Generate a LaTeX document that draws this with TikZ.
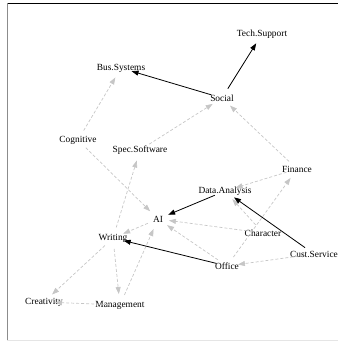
\documentclass[tikz,border=0pt]{standalone}
\usepackage{fontspec}
\setmainfont{Liberation Serif}
\usetikzlibrary{arrows.meta}

\begin{document}
\begin{tikzpicture}[x=1pt, y=-1pt,
	every node/.style={font=\fontsize{9.4}{11}\selectfont, inner sep=0pt},
	>={Triangle[length=7pt, width=5pt]},
	link/.style={->, line width=0.8pt, black, shorten >=11pt, shorten <=11pt},
	dep/.style={->, line width=0.7pt, gray!45, dash pattern=on 3pt off 2pt, shorten >=11pt, shorten <=11pt}]
	\useasboundingbox (0,0) rectangle (338,341);
	% frame
	\draw[line width=1pt] (7,3.3) -- (338,3.3);
	\draw[gray!90, line width=0.9pt] (7,3) -- (7,340);
	\draw[gray!20, line width=0.8pt] (7,340) -- (338,340);
	% nodes
	\node (tech) at (262,34) {Tech.Support};
	\node (bus) at (121,68) {Bus.Systems};
	\node (social) at (222,98) {Social};
	\node (cog) at (78,140) {Cognitive};
	\node (spec) at (140,150) {Spec.Software};
	\node (fin) at (297,169) {Finance};
	\node (data) at (225,191) {Data.Analysis};
	\node (ai) at (158,219) {AI};
	\node (writ) at (113,238) {Writing};
	\node (char) at (263,233) {Character};
	\node (cust) at (314,254) {Cust.Service};
	\node (office) at (227,266) {Office};
	\node (creat) at (44,302) {Creativity};
	\node (mgmt) at (120,305) {Management};
	% dashed links
	\draw[dep] (cog.center) -- (bus.center);
	\draw[dep] (cog.center) -- (ai.center);
	\draw[dep] (spec.center) -- (social.center);
	\draw[dep] (fin.center) -- (social.center);
	\draw[dep] (writ.center) -- (spec.center);
	\draw[dep] (fin.center) -- (data.center);
	\draw[dep] (char.center) -- (data.center);
	\draw[dep] (char.center) -- (ai.center);
	\draw[dep] (office.center) -- (ai.center);
	\draw[dep] (office.center) -- (fin.center);
	\draw[dep] (cust.center) -- (office.center);
	\draw[dep] (ai.center) -- (writ.center);
	\draw[dep] (writ.center) -- (creat.center);
	\draw[dep] (writ.center) -- (mgmt.center);
	\draw[dep] (mgmt.center) -- (ai.center);
	\draw[dep] (mgmt.center) -- (creat.center);
	% solid links
	\draw[link] (social.center) -- (tech.center);
	\draw[link] (social.center) -- (bus.center);
	\draw[link] (data.center) -- (ai.center);
	\draw[link] (cust.center) -- (data.center);
	\draw[link] (office.center) -- (writ.center);
\end{tikzpicture}
\end{document}
